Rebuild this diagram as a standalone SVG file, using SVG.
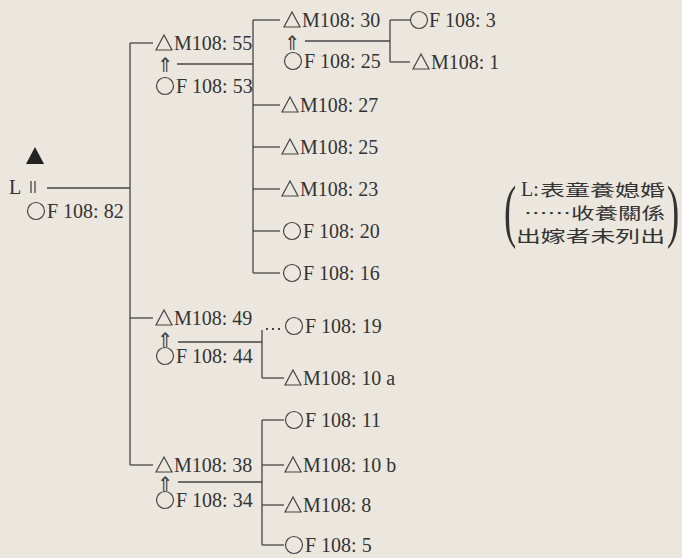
<svg xmlns="http://www.w3.org/2000/svg" width="682" height="558" viewBox="0 0 682 558">
<style>
.t{font-family:"Liberation Serif","Times New Roman","DejaVu Serif",serif;font-size:20px;fill:#333}
.cj{font-family:"Noto Sans CJK TC","Noto Sans CJK SC",sans-serif;font-size:16px;fill:#333}
.ln{stroke:#444;stroke-width:1.3;fill:none}
.sh{stroke:#444;stroke-width:1.2;fill:none}
.ar{font-family:"DejaVu Sans",sans-serif;font-size:20px;fill:#444}
</style>
<defs>
<polygon id="tri" class="sh" points="0,-8 -8,7 8,7"/>
<circle id="cir" class="sh" r="8.5"/>
</defs>
<rect width="682" height="558" fill="#ece7de"/>
<g id="connectors" class="ln">
<line x1="130" y1="43" x2="130" y2="465"/>
<line x1="47" y1="188" x2="130" y2="188"/>
<line x1="31" y1="181" x2="31" y2="193"/>
<line x1="35" y1="181" x2="35" y2="193"/>
<line x1="130" y1="43" x2="153" y2="43"/>
<line x1="130" y1="318" x2="153" y2="318"/>
<line x1="130" y1="465" x2="153" y2="465"/>
<line x1="177" y1="64" x2="253" y2="64"/>
<line x1="178" y1="342" x2="262" y2="342"/>
<line x1="178" y1="482" x2="262" y2="482"/>
<line x1="253" y1="20" x2="253" y2="273"/>
<line x1="253" y1="20" x2="280" y2="20"/>
<line x1="253" y1="105" x2="280" y2="105"/>
<line x1="253" y1="147" x2="280" y2="147"/>
<line x1="253" y1="189" x2="280" y2="189"/>
<line x1="253" y1="231" x2="280" y2="231"/>
<line x1="253" y1="273" x2="280" y2="273"/>
<line x1="305" y1="41" x2="390" y2="41"/>
<line x1="390" y1="20" x2="390" y2="62"/>
<line x1="390" y1="20" x2="410" y2="20"/>
<line x1="390" y1="62" x2="410" y2="62"/>
<line x1="262" y1="330" x2="262" y2="378"/>
<line x1="262" y1="378" x2="284" y2="378"/>
<line x1="262" y1="420" x2="262" y2="545"/>
<line x1="262" y1="420" x2="284" y2="420"/>
<line x1="262" y1="465" x2="284" y2="465"/>
<line x1="262" y1="505" x2="284" y2="505"/>
<line x1="262" y1="545" x2="284" y2="545"/>
<line x1="266" y1="329" x2="284" y2="329" stroke-dasharray="2 4" stroke-width="2"/>
</g>
<g id="ego">
<polygon points="35,147 26,164 44,164" fill="#222"/>
<text class="t" x="9" y="194">L</text>
</g>
<g id="F108-82"><use href="#cir" x="36" y="211"/><text class="t" x="47" y="218">F 108: 82</text></g>
<g id="M108-55"><use href="#tri" x="164" y="43"/><text class="t" x="174" y="50">M108: 55</text><text class="ar" x="157" y="72">⇑</text></g>
<g id="F108-53"><use href="#cir" x="165" y="86"/><text class="t" x="176" y="93">F 108: 53</text></g>
<g id="M108-30"><use href="#tri" x="292" y="20"/><text class="t" x="302" y="27">M108: 30</text><text class="ar" x="284" y="50">⇑</text></g>
<g id="F108-25"><use href="#cir" x="293" y="61"/><text class="t" x="304" y="68">F 108: 25</text></g>
<g id="F108-3"><use href="#cir" x="419" y="20"/><text class="t" x="429" y="27">F 108: 3</text></g>
<g id="M108-1"><use href="#tri" x="421" y="62"/><text class="t" x="431" y="69">M108: 1</text></g>
<g id="M108-27"><use href="#tri" x="290" y="105"/><text class="t" x="300" y="112">M108: 27</text></g>
<g id="M108-25"><use href="#tri" x="290" y="147"/><text class="t" x="300" y="154">M108: 25</text></g>
<g id="M108-23"><use href="#tri" x="290" y="189"/><text class="t" x="300" y="196">M108: 23</text></g>
<g id="F108-20"><use href="#cir" x="292" y="231"/><text class="t" x="303" y="238">F 108: 20</text></g>
<g id="F108-16"><use href="#cir" x="292" y="273"/><text class="t" x="303" y="280">F 108: 16</text></g>
<g id="M108-49"><use href="#tri" x="164" y="318"/><text class="t" x="174" y="325">M108: 49</text><text class="ar" x="157" y="347">⇑</text></g>
<g id="F108-44"><use href="#cir" x="165" y="356"/><text class="t" x="176" y="363">F 108: 44</text></g>
<g id="F108-19"><use href="#cir" x="294" y="326"/><text class="t" x="305" y="333">F 108: 19</text></g>
<g id="M108-10a"><use href="#tri" x="293" y="378"/><text class="t" x="303" y="385">M108: 10 a</text></g>
<g id="M108-38"><use href="#tri" x="164" y="465"/><text class="t" x="174" y="472">M108: 38</text><text class="ar" x="157" y="491">⇑</text></g>
<g id="F108-34"><use href="#cir" x="165" y="500"/><text class="t" x="176" y="507">F 108: 34</text></g>
<g id="F108-11"><use href="#cir" x="294" y="420"/><text class="t" x="305" y="427">F 108: 11</text></g>
<g id="M108-10b"><use href="#tri" x="293" y="465"/><text class="t" x="303" y="472">M108: 10 b</text></g>
<g id="M108-8"><use href="#tri" x="293" y="505"/><text class="t" x="303" y="512">M108: 8</text></g>
<g id="F108-5"><use href="#cir" x="294" y="545"/><text class="t" x="305" y="552">F 108: 5</text></g>
<g id="legend">
<text class="t" transform="translate(504,234) scale(0.8,1.5)" style="font-size:46px">(</text>
<text class="t" transform="translate(667,234) scale(0.8,1.5)" style="font-size:46px">)</text>
<text class="cj"><tspan x="521" y="195.5" style="font-family:'Liberation Serif',serif;font-size:20px">L:</tspan><tspan x="540" y="195.5" textLength="125" lengthAdjust="spacingAndGlyphs">表童養媳婚</tspan><tspan x="524" y="218.8" textLength="141" lengthAdjust="spacingAndGlyphs">……收養關係</tspan><tspan x="516" y="242" textLength="149" lengthAdjust="spacingAndGlyphs">出嫁者未列出</tspan></text>
</g>
</svg>
